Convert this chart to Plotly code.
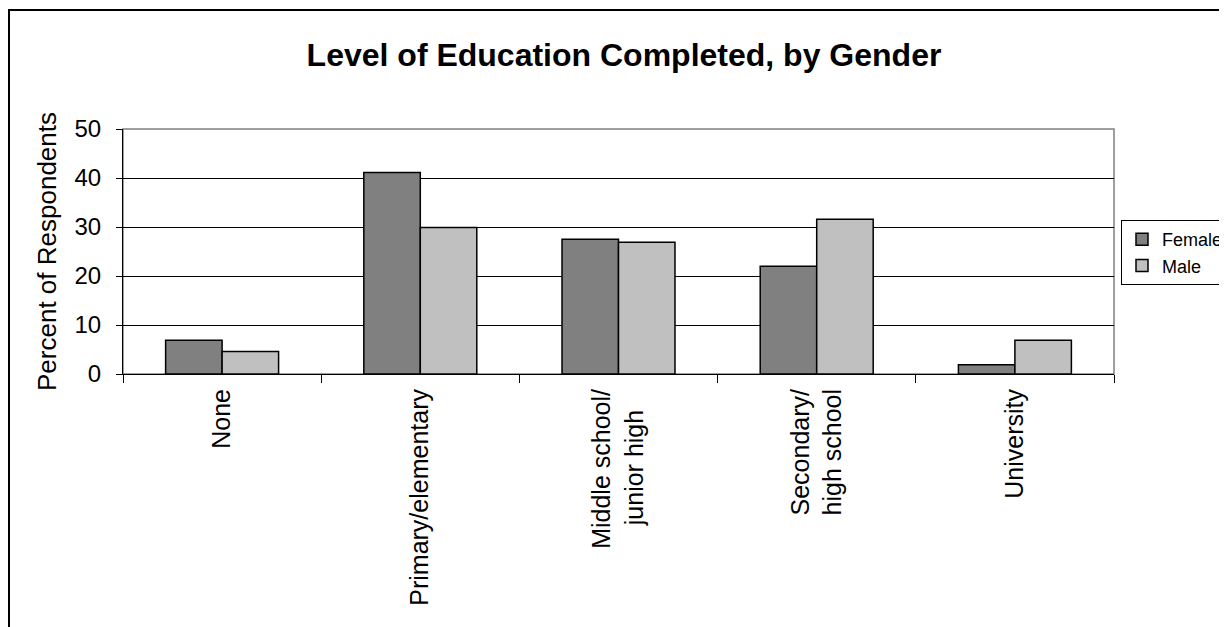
import plotly.graph_objects as go

categories = ["None", "Primary/elementary", "Middle school/<br>junior high",
              "Secondary/<br>high school", "University"]
tick_labels = ["None", "Primary/elementary",
               "Middle school/<br>junior high\u00a0\u00a0\u00a0",
               "Secondary/<br>high school", "University"]
female = [6.9, 41.1, 27.5, 22.0, 1.9]
male = [4.6, 29.9, 26.9, 31.6, 6.9]
y_ticks = [0, 10, 20, 30, 40, 50]

FONT = "Liberation Sans, Arial, sans-serif"

fig = go.Figure()
fig.add_trace(go.Bar(name="Female", x=categories, y=female,
                     marker=dict(color="#808080", line=dict(color="#000000", width=1.5))))
fig.add_trace(go.Bar(name="Male", x=categories, y=male,
                     marker=dict(color="#C0C0C0", line=dict(color="#000000", width=1.5))))

# page body has an 8px margin, so work in reference pixels minus 8
OFF = 8
W, H = 1227 - OFF, 627 - OFF
L, T = 123 - OFF, 129 - OFF
R = W - (1114 - OFF)
B = H - (374 - OFF)
pw, ph = W - L - R, H - T - B

def px_x(p):
    return (p - OFF - L) / pw

def px_y(p):
    return (H - B - (p - OFF)) / ph

fig.update_layout(
    width=W, height=H,
    margin=dict(l=L, r=R, t=T, b=B, autoexpand=False),
    paper_bgcolor="white", plot_bgcolor="white",
    font=dict(family=FONT, color="black"),
    title=dict(text="<b>Level of Education Completed, by Gender</b>",
               font=dict(size=32, family=FONT, color="black"),
               x=px_x(624), xanchor="center", xref="paper",
               y=(H - (55 - OFF)) / H, yanchor="middle"),
    barmode="group", bargap=0.43, bargroupgap=0,
    showlegend=True,
    legend=dict(x=px_x(1121), y=px_y(220), xanchor="left", yanchor="top",
                bordercolor="black", borderwidth=1, bgcolor="white",
                font=dict(size=18, family=FONT, color="black"),
                itemwidth=30, tracegroupgap=0),
    xaxis=dict(type="category", showline=True, linecolor="black", linewidth=1,
               ticks="outside", tickson="boundaries", ticklen=8, tickcolor="black",
               tickangle=-90, tickfont=dict(size=25, family=FONT, color="black"),
               tickmode="array", tickvals=categories, ticktext=tick_labels,
               ticklabelstandoff=4, showgrid=False),
    yaxis=dict(range=[0, 50], tickvals=y_ticks, showline=True, linecolor="black", linewidth=1,
               ticks="outside", ticklen=6, tickcolor="black",
               tickfont=dict(size=24, family=FONT, color="black"),
               ticklabelstandoff=10,
               showgrid=True, gridcolor="black", gridwidth=1, zeroline=False,
               title=dict(text="Percent of Respondents", standoff=10,
                          font=dict(size=26, family=FONT, color="black"))),
)

# plot area frame (gray top/right)
fig.add_shape(type="rect", xref="paper", yref="paper", x0=0, x1=1, y0=0, y1=1,
              line=dict(color="#808080", width=1.5), layer="below")
# outer chart frame
fig.add_shape(type="rect", xref="paper", yref="paper",
              x0=px_x(9), y0=px_y(700), x1=px_x(1300), y1=px_y(10),
              line=dict(color="black", width=2), fillcolor="rgba(0,0,0,0)")

fig.write_html("out.html")
